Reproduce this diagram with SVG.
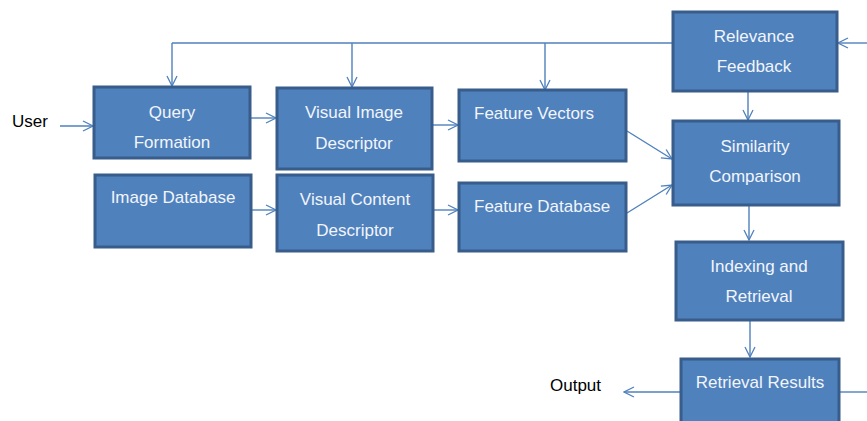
<svg xmlns="http://www.w3.org/2000/svg" width="867" height="421" viewBox="0 0 867 421">
<defs>
<marker id="arr" viewBox="0 0 12 12" refX="11" refY="6" markerWidth="12" markerHeight="12" markerUnits="userSpaceOnUse" orient="auto">
<path d="M1,1 L11,6 L1,11" fill="none" stroke="#4f81bd" stroke-width="1.3"/>
</marker>
</defs>
<style>
.box{fill:#4f81bd;stroke:#385d8a;stroke-width:3}
.t{font-family:"Liberation Sans",Arial,sans-serif;font-size:17px;fill:#f2f5fb;text-anchor:middle}
.tl{font-family:"Liberation Sans",Arial,sans-serif;font-size:17px;fill:#f2f5fb}
.lab{font-family:"Liberation Sans",Arial,sans-serif;font-size:17px;fill:#000}
.c{fill:none;stroke:#4f81bd;stroke-width:1.4}
.ca{fill:none;stroke:#4f81bd;stroke-width:1.4;marker-end:url(#arr)}
</style>
<rect width="867" height="421" fill="#fff"/>
<g id="connectors">
<path class="c" d="M673,43 H172"/>
<path class="ca" d="M172,43 V86"/>
<path class="ca" d="M352,43 V87"/>
<path class="ca" d="M545,43 V90"/>
<path class="ca" d="M867,43 H838"/>
<path class="ca" d="M60,126 H93"/>
<path class="ca" d="M251,118 H276"/>
<path class="ca" d="M251,210 H276"/>
<path class="ca" d="M432,125 H458"/>
<path class="ca" d="M433,210 H458"/>
<path class="ca" d="M627,131 L672,159"/>
<path class="ca" d="M627,213 L672,185"/>
<path class="ca" d="M748,91 V120"/>
<path class="ca" d="M749,205 V240"/>
<path class="ca" d="M750,320 V357"/>
<path class="ca" d="M681,392 H624"/>
<path class="c" d="M839,392 H867"/>
</g>
<g id="user"><text class="lab" x="12" y="127">User</text></g>
<g id="output"><text class="lab" x="550" y="391">Output</text></g>
<g id="query-formation">
<rect class="box" x="94" y="87" width="156" height="71"/>
<text class="t" x="172" y="118">Query</text>
<text class="t" x="172" y="148">Formation</text>
</g>
<g id="visual-image-descriptor">
<rect class="box" x="277" y="88" width="155" height="81"/>
<text class="t" x="354" y="118">Visual Image</text>
<text class="t" x="354" y="149">Descriptor</text>
</g>
<g id="image-database">
<rect class="box" x="95" y="175" width="156" height="72"/>
<text class="t" x="173" y="203">Image Database</text>
</g>
<g id="visual-content-descriptor">
<rect class="box" x="277" y="175" width="156" height="76"/>
<text class="t" x="355" y="205">Visual Content</text>
<text class="t" x="355" y="236">Descriptor</text>
</g>
<g id="feature-vectors">
<rect class="box" x="459" y="90" width="167" height="71"/>
<text class="tl" x="474" y="119">Feature Vectors</text>
</g>
<g id="feature-database">
<rect class="box" x="459" y="183" width="167" height="68"/>
<text class="tl" x="474" y="212">Feature Database</text>
</g>
<g id="relevance-feedback">
<rect class="box" x="673" y="12" width="164" height="79"/>
<text class="t" x="754" y="42">Relevance</text>
<text class="t" x="754" y="72">Feedback</text>
</g>
<g id="similarity-comparison">
<rect class="box" x="673" y="121" width="166" height="84"/>
<text class="t" x="755" y="152">Similarity</text>
<text class="t" x="755" y="182">Comparison</text>
</g>
<g id="indexing-retrieval">
<rect class="box" x="676" y="242" width="167" height="78"/>
<text class="t" x="759" y="272">Indexing and</text>
<text class="t" x="759" y="302">Retrieval</text>
</g>
<g id="retrieval-results">
<rect class="box" x="681" y="359" width="158" height="70"/>
<text class="t" x="760" y="388">Retrieval Results</text>
</g>
</svg>
